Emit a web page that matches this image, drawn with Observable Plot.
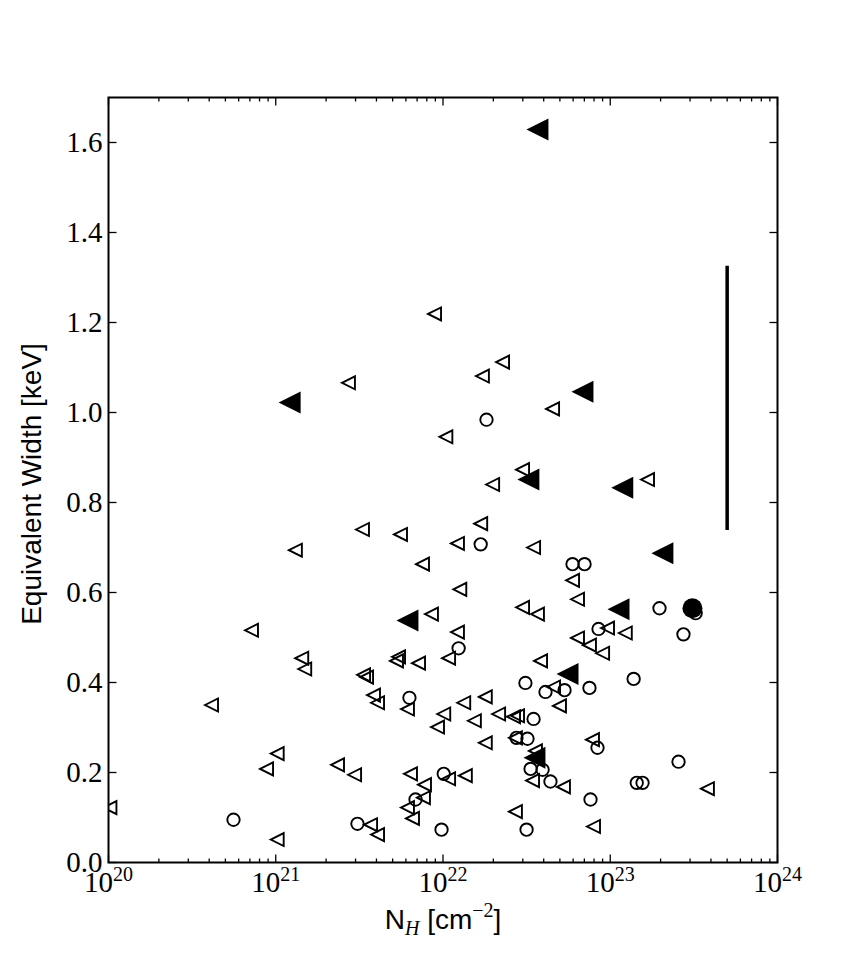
<!DOCTYPE html>
<html><head><meta charset="utf-8">
<script src="https://cdn.jsdelivr.net/npm/d3@7"></script>
<script src="https://cdn.jsdelivr.net/npm/@observablehq/plot@0.6"></script>
<style>body{margin:0;background:#fff} svg{display:block}</style>
</head><body><div id="chart"></div>
<script>
// ---- data ----
const openTriNH = [8.9e21,2.27e22,1.72e22,2.72e21,4.52e22,1.04e22,2.99e22,1.98e22,1.67e23,3.30e21,
  1.68e22,5.57e21,1.31e21,1.22e22,3.48e22,7.54e21,5.95e22,1.26e22,6.37e22,8.53e21,
  2.99e22,3.67e22,7.16e20,9.63e22,1.23e23,6.37e22,1.22e22,7.51e22,9.0e22,1.08e22,
  7.14e21,5.42e21,5.27e21,3.83e22,1.43e21,1.49e21,3.35e21,3.49e21,4.13e20,3.84e21,
  4.06e21,6.13e21,1.01e22,9.27e21,1.79e22,1.33e22,1.54e22,2.15e22,2.64e22,2.79e22,
  4.97e22,4.58e22,1.79e22,2.71e22,7.83e22,3.57e22,3.43e22,5.25e22,3.81e23,2.71e22,
  7.94e22,6.39e21,1.08e22,1.36e22,7.75e21,7.64e21,6.13e21,6.57e21,1.02e21,8.81e20,
  2.34e21,2.96e21,3.69e21,4.06e21,1.02e21,1.02e20];
const openTriEW = [1.219,1.112,1.081,1.066,1.008,0.946,0.873,0.840,0.851,0.740,
  0.753,0.729,0.694,0.709,0.700,0.663,0.627,0.607,0.585,0.552,
  0.567,0.552,0.516,0.521,0.510,0.499,0.512,0.483,0.465,0.454,
  0.443,0.457,0.448,0.448,0.454,0.430,0.417,0.412,0.350,0.372,
  0.355,0.341,0.330,0.301,0.368,0.355,0.315,0.330,0.324,0.326,
  0.348,0.390,0.266,0.277,0.273,0.248,0.182,0.168,0.164,0.113,
  0.080,0.197,0.186,0.193,0.173,0.144,0.122,0.098,0.242,0.208,
  0.217,0.195,0.084,0.062,0.051,0.122];

const openCircNH = [1.82e22,1.68e22,5.95e22,7.02e22,1.97e23,3.24e23,2.74e23,8.51e22,1.24e22,6.3e21,
  3.11e22,4.10e22,5.33e22,7.51e22,1.38e23,3.48e22,2.75e22,3.20e22,8.39e22,3.34e22,
  3.94e22,4.39e22,1.44e23,1.56e23,2.56e23,7.62e22,1.01e22,9.8e21,3.16e22,6.85e21,
  5.59e20,3.08e21];
const openCircEW = [0.984,0.707,0.663,0.663,0.565,0.554,0.507,0.519,0.476,0.366,
  0.399,0.379,0.383,0.388,0.408,0.319,0.277,0.275,0.255,0.208,
  0.206,0.180,0.177,0.177,0.224,0.140,0.197,0.073,0.073,0.140,
  0.095,0.086];

const filledTriNH = [3.67e22,1.21e21,6.82e22,3.24e22,1.18e23,2.05e23,6.13e21,1.12e23,5.55e22,3.52e22];
const filledTriEW = [1.629,1.022,1.046,0.851,0.833,0.687,0.538,0.563,0.419,0.233];

const filledCircNH = [3.10e23];
const filledCircEW = [0.565];

const errBarNH = [5.0e23];
const errBarLow = [0.738];
const errBarHigh = [1.325];

const xMajorTicks = [1e20,1e21,1e22,1e23,1e24];
const xMinorTicks = [20,21,22,23].flatMap(e => [2,3,4,5,6,7,8,9].map(m => m * 10 ** e));
const yTicks = [0.0,0.2,0.4,0.6,0.8,1.0,1.2,1.4,1.6];
const yTickLabels = ["0.0","0.2","0.4","0.6","0.8","1.0","1.2","1.4","1.6"];

// ---- helpers ----
const rows = (xs, ys) => xs.map((x, i) => ({nh: x, ew: ys[i]}));
const triLeft = {draw(ctx, size) {const r = Math.sqrt(size / Math.PI); ctx.moveTo(-r, 0); ctx.lineTo(r, -r); ctx.lineTo(r, r); ctx.closePath();}};
const seg = (dx, dy) => ({draw(ctx) {ctx.moveTo(0, 0); ctx.lineTo(dx, dy);}});
const MAJ = 8, MIN = 4;
const tickMarks = (vals, xAcc, yAcc, dx, dy) =>
  Plot.dot(vals, {x: xAcc, y: yAcc, r: 1, symbol: seg(dx, dy), fill: "none", stroke: "black", strokeWidth: 1.3});

const serif = "'Liberation Serif','Times New Roman',serif";
const sans = "'Liberation Sans',Arial,Helvetica,sans-serif";

const chart = Plot.plot({
  width: 863,
  height: 959,
  marginLeft: 108,
  marginRight: 86,
  marginTop: 97,
  marginBottom: 97,
  style: {fontFamily: serif, fontSize: "29px", background: "white", color: "black"},
  x: {type: "log", domain: [1e20, 1e24], label: null},
  y: {domain: [0, 1.7], label: null},
  marks: [
    Plot.axisX(xMajorTicks, {tickSize: 0, tickPadding: 9, label: null, tickFormat: d => "10^" + Math.round(Math.log10(d)), fontSize: 29, fontFamily: serif}),
    Plot.axisY(yTicks, {tickSize: 0, tickPadding: 6, label: null, tickFormat: d => yTickLabels[yTicks.indexOf(d)], fontSize: 29, fontFamily: serif}),
    // inward ticks on all four sides
    tickMarks(xMajorTicks, d => d, () => 0, 0, -MAJ),
    tickMarks(xMajorTicks, d => d, () => 1.7, 0, MAJ),
    tickMarks(xMinorTicks, d => d, () => 0, 0, -MIN),
    tickMarks(xMinorTicks, d => d, () => 1.7, 0, MIN),
    tickMarks(yTicks, () => 1e20, d => d, MAJ, 0),
    tickMarks(yTicks, () => 1e24, d => d, -MAJ, 0),
    // data
    Plot.ruleX(errBarNH.map((x, i) => ({nh: x, lo: errBarLow[i], hi: errBarHigh[i]})), {x: "nh", y1: "lo", y2: "hi", stroke: "black", strokeWidth: 3.5}),
    Plot.dot(rows(openTriNH, openTriEW), {x: "nh", y: "ew", symbol: triLeft, r: 6.5, fill: "none", stroke: "black", strokeWidth: 1.9, clip: true}),
    Plot.dot(rows(openCircNH, openCircEW), {x: "nh", y: "ew", symbol: "circle", r: 6.2, fill: "none", stroke: "black", strokeWidth: 1.9, clip: true}),
    Plot.dot(rows(filledTriNH, filledTriEW), {x: "nh", y: "ew", symbol: triLeft, r: 11, fill: "black", stroke: "none", clip: true}),
    Plot.dot(rows(filledCircNH, filledCircEW), {x: "nh", y: "ew", symbol: "circle", r: 10, fill: "black", stroke: "none", clip: true}),
    Plot.frame({stroke: "black", strokeWidth: 2})
  ]
});
document.getElementById("chart").appendChild(chart);

// superscript exponents on the x tick labels
chart.querySelectorAll('[aria-label="x-axis tick label"] text').forEach(t => {
  const s = t.textContent;
  if (!s.includes("^")) return;
  const [b, e] = s.split("^");
  t.textContent = "";
  const ns = "http://www.w3.org/2000/svg";
  const t1 = document.createElementNS(ns, "tspan"); t1.textContent = b;
  const t2 = document.createElementNS(ns, "tspan"); t2.textContent = e;
  t2.setAttribute("font-size", "20px"); t2.setAttribute("dy", "-11");
  t.appendChild(t1); t.appendChild(t2);
});

// axis titles
const svg = d3.select(chart);
svg.append("text")
  .attr("transform", "translate(41,484) rotate(-90)")
  .attr("text-anchor", "middle")
  .attr("font-family", sans).attr("font-size", 28).attr("fill", "black")
  .text("Equivalent Width [keV]");
const xl = svg.append("text")
  .attr("x", 443).attr("y", 929)
  .attr("text-anchor", "middle")
  .attr("font-family", sans).attr("font-size", 28).attr("fill", "black");
xl.append("tspan").text("N");
xl.append("tspan").attr("font-family", serif).attr("font-style", "italic").attr("font-size", 20).attr("dy", 6).text("H");
xl.append("tspan").attr("dy", -6).text(" [cm");
xl.append("tspan").attr("font-family", serif).attr("font-size", 20).attr("dy", -12).text("\u22122");
xl.append("tspan").attr("dy", 12).text("]");
</script>
</body></html>
